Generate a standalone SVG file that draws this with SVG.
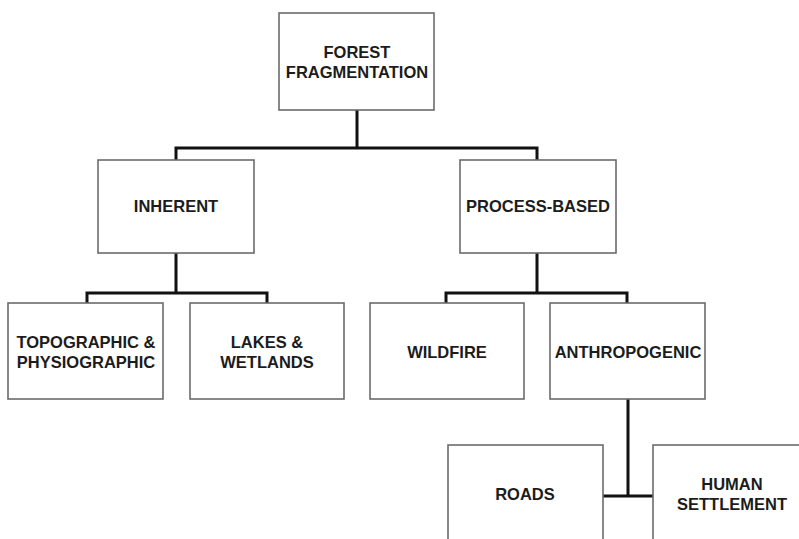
<svg xmlns="http://www.w3.org/2000/svg" width="799" height="539" viewBox="0 0 799 539">
<style>
.box{fill:#fff;stroke:#6b6b6b;stroke-width:1.6}
.lbl{font-family:"Liberation Sans",Arial,sans-serif;font-weight:bold;font-size:16.5px;fill:#1c1c1c;text-anchor:middle}
.con{fill:none;stroke:#111;stroke-width:3}
</style>
<rect width="799" height="539" fill="#fff"/>
<g id="connectors">
<path class="con" d="M357,110V148M176,160V148H537V160"/>
<path class="con" d="M176,253V293M87,303V293H267V303"/>
<path class="con" d="M537,253V293M446,303V293H627V303"/>
<path class="con" d="M628,399V496M603,496H653"/>
</g>
<g id="forest">
<rect class="box" x="279" y="13" width="155" height="97"/>
<text class="lbl" x="357" y="58">FOREST</text>
<text class="lbl" x="357" y="78">FRAGMENTATION</text>
</g>
<g id="inherent">
<rect class="box" x="98" y="160" width="156" height="93"/>
<text class="lbl" x="176" y="212">INHERENT</text>
</g>
<g id="process">
<rect class="box" x="460" y="160" width="156" height="93"/>
<text class="lbl" x="538" y="212">PROCESS-BASED</text>
</g>
<g id="topographic">
<rect class="box" x="8" y="303" width="155" height="96"/>
<text class="lbl" x="86" y="348">TOPOGRAPHIC &amp;</text>
<text class="lbl" x="86" y="368">PHYSIOGRAPHIC</text>
</g>
<g id="lakes">
<rect class="box" x="190" y="303" width="154" height="96"/>
<text class="lbl" x="267" y="348">LAKES &amp;</text>
<text class="lbl" x="267" y="368">WETLANDS</text>
</g>
<g id="wildfire">
<rect class="box" x="370" y="303" width="154" height="96"/>
<text class="lbl" x="447" y="358">WILDFIRE</text>
</g>
<g id="anthropogenic">
<rect class="box" x="550" y="303" width="155" height="96"/>
<text class="lbl" x="628" y="358">ANTHROPOGENIC</text>
</g>
<g id="roads">
<rect class="box" x="448" y="445" width="155" height="110"/>
<text class="lbl" x="525" y="500">ROADS</text>
</g>
<g id="settlement">
<rect class="box" x="653" y="445" width="160" height="110"/>
<text class="lbl" x="732" y="490">HUMAN</text>
<text class="lbl" x="732" y="510">SETTLEMENT</text>
</g>
</svg>
